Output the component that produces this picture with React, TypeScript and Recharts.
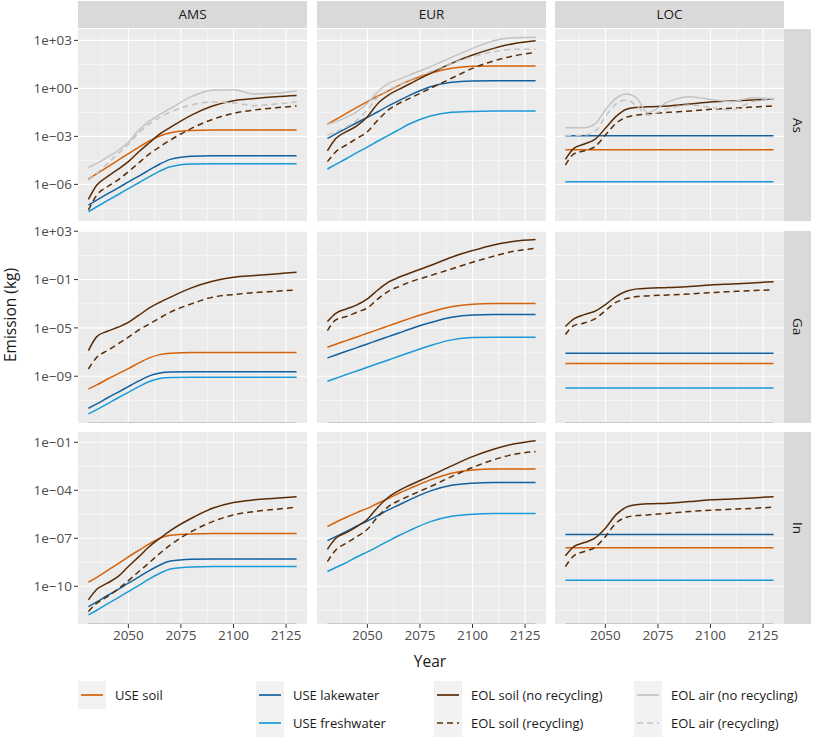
import React from 'react';
import { LineChart, Line, XAxis, YAxis, CartesianGrid } from 'recharts';

// ---------- data (values are log10 of emission in kg) ----------
const YEARS = [2031, 2035, 2040, 2045, 2050, 2055, 2060, 2065, 2070, 2080, 2090, 2100, 2110, 2120, 2130];
const REGIONS = ['AMS', 'EUR', 'LOC'];
const ELEMENTS = ['As', 'Ga', 'In'];

// As
const As_AMS_useSoil = [-5.67, -5.33, -4.92, -4.5, -4.08, -3.67, -3.29, -2.98, -2.77, -2.63, -2.6, -2.6, -2.6, -2.6, -2.6];
const As_AMS_useLake = [-7.29, -6.98, -6.6, -6.23, -5.85, -5.48, -5.1, -4.73, -4.44, -4.25, -4.21, -4.21, -4.21, -4.21, -4.21];
const As_AMS_useFresh = [-7.71, -7.4, -7.02, -6.65, -6.27, -5.9, -5.52, -5.17, -4.9, -4.73, -4.71, -4.71, -4.71, -4.71, -4.71];
const As_AMS_soilNR = [-6.94, -6.04, -5.52, -5.06, -4.58, -3.96, -3.4, -2.85, -2.44, -1.67, -1.1, -0.77, -0.63, -0.52, -0.44];
const As_AMS_soilR = [-7.6, -6.67, -6.15, -5.73, -5.21, -4.65, -4.1, -3.65, -3.23, -2.5, -1.94, -1.56, -1.35, -1.21, -1.1];
const As_AMS_airNR = [-4.96, -4.69, -4.3, -3.9, -3.35, -2.6, -2.05, -1.63, -1.25, -0.52, -0.12, -0.08, -0.36, -0.31, -0.17];
const As_AMS_airR = [-5.73, -5.31, -4.72, -4.1, -3.5, -2.78, -2.22, -1.8, -1.48, -1.04, -0.85, -0.9, -1.08, -0.98, -0.85];

const As_EUR_useSoil = [-2.23, -1.94, -1.56, -1.19, -0.83, -0.48, -0.15, 0.19, 0.48, 0.94, 1.25, 1.38, 1.4, 1.4, 1.4];
const As_EUR_useLake = [-3.13, -2.85, -2.5, -2.15, -1.81, -1.46, -1.1, -0.77, -0.44, 0.1, 0.38, 0.46, 0.48, 0.48, 0.48];
const As_EUR_useFresh = [-5.04, -4.75, -4.4, -4.02, -3.67, -3.29, -2.94, -2.58, -2.23, -1.73, -1.5, -1.44, -1.42, -1.42, -1.42];
const As_EUR_soilNR = [-3.9, -3.13, -2.71, -2.35, -1.77, -0.94, -0.42, -0.06, 0.27, 0.94, 1.56, 2.08, 2.5, 2.81, 2.98];
const As_EUR_soilR = [-4.58, -3.96, -3.54, -3.13, -2.71, -1.98, -1.35, -0.94, -0.63, 0.0, 0.63, 1.25, 1.71, 2.04, 2.25];
const As_EUR_airNR = [-2.25, -2.08, -1.81, -1.46, -0.94, -0.21, 0.31, 0.56, 0.83, 1.35, 1.94, 2.5, 2.98, 3.17, 3.19];
const As_EUR_airR = [-2.92, -2.71, -2.4, -1.98, -1.35, -0.52, -0.1, 0.21, 0.52, 1.04, 1.56, 1.98, 2.29, 2.44, 2.44];

const As_LOC_useSoil = [-3.83, -3.83, -3.83, -3.83, -3.83, -3.83, -3.83, -3.83, -3.83, -3.83, -3.83, -3.83, -3.83, -3.83, -3.83];
const As_LOC_useLake = [-2.96, -2.96, -2.96, -2.96, -2.96, -2.96, -2.96, -2.96, -2.96, -2.96, -2.96, -2.96, -2.96, -2.96, -2.96];
const As_LOC_useFresh = [-5.83, -5.83, -5.83, -5.83, -5.83, -5.83, -5.83, -5.83, -5.83, -5.83, -5.83, -5.83, -5.83, -5.83, -5.83];
const As_LOC_soilNR = [-4.44, -3.75, -3.48, -3.19, -2.5, -1.77, -1.31, -1.19, -1.15, -1.1, -0.98, -0.85, -0.79, -0.73, -0.67];
const As_LOC_soilR = [-4.79, -4.1, -3.9, -3.65, -2.92, -2.19, -1.81, -1.67, -1.6, -1.5, -1.42, -1.31, -1.25, -1.17, -1.1];
const As_LOC_airNR = [-2.46, -2.46, -2.46, -2.23, -1.35, -0.63, -0.35, -0.63, -1.52, -0.83, -0.52, -0.69, -0.83, -0.58, -0.67];
const As_LOC_airR = [-2.94, -2.94, -2.92, -2.71, -1.77, -0.98, -0.73, -1.1, -1.67, -1.25, -1.04, -1.19, -1.35, -0.83, -0.69];

// Ga
const Ga_AMS_useSoil = [-10.05, -9.72, -9.25, -8.81, -8.37, -7.9, -7.48, -7.21, -7.1, -7.04, -7.04, -7.04, -7.04, -7.04, -7.04];
const Ga_AMS_useLake = [-11.65, -11.29, -10.8, -10.33, -9.86, -9.39, -8.97, -8.73, -8.64, -8.62, -8.62, -8.62, -8.62, -8.62, -8.62];
const Ga_AMS_useFresh = [-12.12, -11.76, -11.29, -10.8, -10.33, -9.86, -9.44, -9.19, -9.11, -9.08, -9.08, -9.08, -9.08, -9.08, -9.08];
const Ga_AMS_soilNR = [-6.88, -5.72, -5.28, -4.95, -4.55, -3.95, -3.35, -2.88, -2.46, -1.69, -1.14, -0.81, -0.67, -0.53, -0.39];
const Ga_AMS_soilR = [-8.4, -7.43, -6.88, -6.33, -5.77, -5.17, -4.67, -4.17, -3.7, -3.01, -2.46, -2.24, -2.08, -1.97, -1.86];

const Ga_EUR_useSoil = [-6.6, -6.35, -6.05, -5.75, -5.44, -5.14, -4.83, -4.53, -4.23, -3.68, -3.24, -3.04, -2.99, -2.99, -2.99];
const Ga_EUR_useLake = [-7.48, -7.24, -6.93, -6.63, -6.33, -6.02, -5.72, -5.42, -5.11, -4.56, -4.12, -3.93, -3.9, -3.9, -3.9];
const Ga_EUR_useFresh = [-9.42, -9.17, -8.86, -8.56, -8.26, -7.95, -7.65, -7.35, -7.04, -6.46, -5.99, -5.8, -5.77, -5.77, -5.77];
const Ga_EUR_soilNR = [-4.48, -3.79, -3.43, -3.1, -2.6, -1.86, -1.22, -0.81, -0.48, 0.16, 0.85, 1.4, 1.87, 2.17, 2.31];
const Ga_EUR_soilR = [-5.22, -4.34, -4.06, -3.7, -3.35, -2.6, -1.97, -1.58, -1.22, -0.67, -0.12, 0.43, 0.93, 1.35, 1.59];

const Ga_LOC_useSoil = [-7.95, -7.95, -7.95, -7.95, -7.95, -7.95, -7.95, -7.95, -7.95, -7.95, -7.95, -7.95, -7.95, -7.95, -7.95];
const Ga_LOC_useLake = [-7.1, -7.1, -7.1, -7.1, -7.1, -7.1, -7.1, -7.1, -7.1, -7.1, -7.1, -7.1, -7.1, -7.1, -7.1];
const Ga_LOC_useFresh = [-9.97, -9.97, -9.97, -9.97, -9.97, -9.97, -9.97, -9.97, -9.97, -9.97, -9.97, -9.97, -9.97, -9.97, -9.97];
const Ga_LOC_soilNR = [-4.89, -4.26, -3.9, -3.62, -3.07, -2.41, -1.97, -1.77, -1.72, -1.66, -1.58, -1.44, -1.36, -1.28, -1.17];
const Ga_LOC_soilR = [-5.55, -4.81, -4.59, -4.26, -3.57, -2.88, -2.57, -2.41, -2.35, -2.27, -2.19, -2.08, -1.99, -1.91, -1.86];

// In
const In_AMS_useSoil = [-9.75, -9.44, -9.02, -8.6, -8.17, -7.75, -7.35, -7.0, -6.81, -6.73, -6.71, -6.71, -6.71, -6.71, -6.71];
const In_AMS_useLake = [-11.27, -10.98, -10.58, -10.21, -9.81, -9.42, -9.02, -8.67, -8.42, -8.31, -8.29, -8.29, -8.29, -8.29, -8.29];
const In_AMS_useFresh = [-11.79, -11.5, -11.1, -10.73, -10.33, -9.94, -9.54, -9.19, -8.92, -8.79, -8.77, -8.77, -8.77, -8.77, -8.77];
const In_AMS_soilNR = [-10.85, -10.19, -9.81, -9.4, -8.77, -8.15, -7.52, -7.0, -6.52, -5.75, -5.13, -4.77, -4.6, -4.5, -4.4];
const In_AMS_soilR = [-11.58, -11.06, -10.65, -10.19, -9.65, -9.08, -8.52, -7.94, -7.42, -6.58, -5.96, -5.54, -5.33, -5.19, -5.06];

const In_EUR_useSoil = [-6.27, -6.0, -5.69, -5.4, -5.13, -4.81, -4.52, -4.19, -3.9, -3.35, -2.94, -2.73, -2.67, -2.67, -2.67];
const In_EUR_useLake = [-7.15, -6.9, -6.58, -6.23, -5.92, -5.58, -5.23, -4.92, -4.6, -4.04, -3.69, -3.56, -3.52, -3.52, -3.52];
const In_EUR_useFresh = [-9.08, -8.83, -8.52, -8.17, -7.85, -7.52, -7.17, -6.83, -6.52, -5.96, -5.63, -5.5, -5.46, -5.46, -5.46];
const In_EUR_soilNR = [-7.69, -7.0, -6.65, -6.27, -5.81, -5.06, -4.44, -4.02, -3.69, -3.1, -2.48, -1.9, -1.44, -1.1, -0.9];
const In_EUR_soilR = [-8.46, -7.73, -7.31, -6.9, -6.44, -5.65, -5.02, -4.65, -4.35, -3.77, -3.15, -2.58, -2.1, -1.75, -1.58];

const In_LOC_useSoil = [-7.6, -7.6, -7.6, -7.6, -7.6, -7.6, -7.6, -7.6, -7.6, -7.6, -7.6, -7.6, -7.6, -7.6, -7.6];
const In_LOC_useLake = [-6.77, -6.77, -6.77, -6.77, -6.77, -6.77, -6.77, -6.77, -6.77, -6.77, -6.77, -6.77, -6.77, -6.77, -6.77];
const In_LOC_useFresh = [-9.63, -9.63, -9.63, -9.63, -9.63, -9.63, -9.63, -9.63, -9.63, -9.63, -9.63, -9.63, -9.63, -9.63, -9.63];
const In_LOC_soilNR = [-8.1, -7.52, -7.27, -7.0, -6.38, -5.54, -5.06, -4.9, -4.85, -4.81, -4.71, -4.6, -4.54, -4.48, -4.4];
const In_LOC_soilR = [-8.77, -8.1, -7.83, -7.58, -6.9, -6.06, -5.69, -5.58, -5.54, -5.44, -5.33, -5.25, -5.19, -5.13, -5.06];

// Ga and In have no air emissions: log10(0) = -Infinity (drawn on the panel's lower edge)
const NO_AIR = [-Infinity, -Infinity, -Infinity, -Infinity, -Infinity, -Infinity, -Infinity, -Infinity, -Infinity, -Infinity, -Infinity, -Infinity, -Infinity, -Infinity, -Infinity];

// axis ticks (log10 exponents) per element row
const ROW_DOMAINS = [[-8.29, 3.71], [-12.87, 3.02], [-12.36, -0.36]];
const ROW_MAJOR = [[-6, -3, 0, 3], [-9, -5, -1, 3], [-10, -7, -4, -1]];
const ROW_MINOR = [[-7.5, -4.5, -1.5, 1.5], [-11, -7, -3, 1], [-11.5, -8.5, -5.5, -2.5]];
const X_DOMAIN = [2026.05, 2134.95];
const X_MAJOR = [2050, 2075, 2100, 2125];
const X_MINOR = [2037.5, 2062.5, 2087.5, 2112.5];

const SERIES = [
  { key: 'useSoil', name: 'USE soil', color: '#D5620A', dash: undefined as string | undefined },
  { key: 'useLake', name: 'USE lakewater', color: '#13609F', dash: undefined },
  { key: 'useFresh', name: 'USE freshwater', color: '#1B9AD6', dash: undefined },
  { key: 'soilNR', name: 'EOL soil (no recycling)', color: '#5A2C05', dash: undefined },
  { key: 'soilR', name: 'EOL soil (recycling)', color: '#5A2C05', dash: '6 4' },
  { key: 'airNR', name: 'EOL air (no recycling)', color: '#C3C3C3', dash: undefined },
  { key: 'airR', name: 'EOL air (recycling)', color: '#C3C3C3', dash: '6 4' },
];

const PANEL_SOURCES: Record<string, Record<string, number[]>> = {
  'As-AMS': { useSoil: As_AMS_useSoil, useLake: As_AMS_useLake, useFresh: As_AMS_useFresh, soilNR: As_AMS_soilNR, soilR: As_AMS_soilR, airNR: As_AMS_airNR, airR: As_AMS_airR },
  'As-EUR': { useSoil: As_EUR_useSoil, useLake: As_EUR_useLake, useFresh: As_EUR_useFresh, soilNR: As_EUR_soilNR, soilR: As_EUR_soilR, airNR: As_EUR_airNR, airR: As_EUR_airR },
  'As-LOC': { useSoil: As_LOC_useSoil, useLake: As_LOC_useLake, useFresh: As_LOC_useFresh, soilNR: As_LOC_soilNR, soilR: As_LOC_soilR, airNR: As_LOC_airNR, airR: As_LOC_airR },
  'Ga-AMS': { useSoil: Ga_AMS_useSoil, useLake: Ga_AMS_useLake, useFresh: Ga_AMS_useFresh, soilNR: Ga_AMS_soilNR, soilR: Ga_AMS_soilR, airNR: NO_AIR, airR: NO_AIR },
  'Ga-EUR': { useSoil: Ga_EUR_useSoil, useLake: Ga_EUR_useLake, useFresh: Ga_EUR_useFresh, soilNR: Ga_EUR_soilNR, soilR: Ga_EUR_soilR, airNR: NO_AIR, airR: NO_AIR },
  'Ga-LOC': { useSoil: Ga_LOC_useSoil, useLake: Ga_LOC_useLake, useFresh: Ga_LOC_useFresh, soilNR: Ga_LOC_soilNR, soilR: Ga_LOC_soilR, airNR: NO_AIR, airR: NO_AIR },
  'In-AMS': { useSoil: In_AMS_useSoil, useLake: In_AMS_useLake, useFresh: In_AMS_useFresh, soilNR: In_AMS_soilNR, soilR: In_AMS_soilR, airNR: NO_AIR, airR: NO_AIR },
  'In-EUR': { useSoil: In_EUR_useSoil, useLake: In_EUR_useLake, useFresh: In_EUR_useFresh, soilNR: In_EUR_soilNR, soilR: In_EUR_soilR, airNR: NO_AIR, airR: NO_AIR },
  'In-LOC': { useSoil: In_LOC_useSoil, useLake: In_LOC_useLake, useFresh: In_LOC_useFresh, soilNR: In_LOC_soilNR, soilR: In_LOC_soilR, airNR: NO_AIR, airR: NO_AIR },
};

// ---------- layout ----------
const FONT = "'Open Sans', 'Noto Sans', sans-serif";
const COL_X = [78, 317, 555];
const ROW_Y = [29, 231, 432];
const PW = 229;
const PH = 192;
const Y_AXIS_W = 78;
const X_AXIS_H = 34;
const TOP_PAD = 10;

const fmtExp = (e: number) => {
  const a = Math.abs(e);
  return `1e${e < 0 ? '\u2212' : '+'}${a < 10 ? '0' + a : String(a)}`;
};

function buildRows(element: string, region: string, row: number) {
  const src = PANEL_SOURCES[`${element}-${region}`];
  const lo = ROW_DOMAINS[row][0];
  return YEARS.map((year, i) => {
    const r: Record<string, number> = { year };
    SERIES.forEach((s) => {
      r[s.key] = Math.max(src[s.key][i], lo);
    });
    return r;
  });
}

function Panel({ row, col }: { row: number; col: number }) {
  const element = ELEMENTS[row];
  const region = REGIONS[col];
  const data = buildRows(element, region, row);
  const showY = col === 0;
  const showX = row === 2;
  const width = PW + (showY ? Y_AXIS_W : 0);
  const height = PH + TOP_PAD + (showX ? X_AXIS_H : 0);
  const left = showY ? COL_X[col] - Y_AXIS_W : COL_X[col];
  const tickStyle = { fill: '#4D4D4D', fontSize: 13.5, fontFamily: FONT };
  return (
    <div style={{ position: 'absolute', left, top: ROW_Y[row] - TOP_PAD }}>
      <LineChart width={width} height={height} data={data} margin={{ top: TOP_PAD, right: 0, bottom: 0, left: 0 }}>
        <CartesianGrid
          fill="#EBEBEB"
          fillOpacity={1}
          stroke="#FFFFFF"
          strokeWidth={0.55}
          horizontalValues={ROW_MINOR[row]}
          verticalValues={X_MINOR}
        />
        <CartesianGrid
          stroke="#FFFFFF"
          strokeWidth={1.1}
          horizontalValues={ROW_MAJOR[row]}
          verticalValues={X_MAJOR}
        />
        <XAxis
          type="number"
          dataKey="year"
          domain={X_DOMAIN}
          ticks={X_MAJOR}
          interval={0}
          allowDataOverflow
          hide={!showX}
          height={X_AXIS_H}
          axisLine={false}
          tickLine={{ stroke: '#333333' }}
          tickSize={4}
          tick={tickStyle}
        />
        <YAxis
          type="number"
          domain={ROW_DOMAINS[row]}
          ticks={ROW_MAJOR[row]}
          interval={0}
          allowDataOverflow
          hide={!showY}
          width={Y_AXIS_W}
          axisLine={false}
          tickLine={{ stroke: '#333333' }}
          tickSize={4}
          tick={tickStyle}
          tickFormatter={fmtExp}
        />
        {SERIES.map((s) => (
          <Line
            key={s.key}
            type="monotone"
            dataKey={s.key}
            name={s.name}
            stroke={s.color}
            strokeWidth={1.5}
            strokeDasharray={s.dash}
            dot={false}
            activeDot={false}
            isAnimationActive={false}
          />
        ))}
      </LineChart>
    </div>
  );
}

const LEGEND_GROUPS = [
  ['useSoil'],
  ['useLake', 'useFresh'],
  ['soilNR', 'soilR'],
  ['airNR', 'airR'],
];
const LEGEND_X = [78, 256, 434, 634];

function Legend() {
  return (
    <>
      {LEGEND_GROUPS.map((g, gi) => (
        <div key={gi} style={{ position: 'absolute', left: LEGEND_X[gi], top: 681 }}>
          {g.map((k) => {
            const s = SERIES.find((x) => x.key === k)!;
            return (
              <div key={k} style={{ display: 'flex', alignItems: 'center', height: 28 }}>
                <svg width={28} height={28} style={{ display: 'block' }}>
                  <rect x={0} y={0} width={28} height={28} fill="#F2F2F2" />
                  <line x1={3} x2={25} y1={14} y2={14} stroke={s.color} strokeWidth={1.7} strokeDasharray={s.dash} />
                </svg>
                <span style={{ marginLeft: 9, fontSize: 13, color: '#1A1A1A', fontFamily: FONT, whiteSpace: 'nowrap' }}>{s.name}</span>
              </div>
            );
          })}
        </div>
      ))}
    </>
  );
}

export default function App() {
  return (
    <div style={{ position: 'absolute', left: 0, top: 0, width: 813, height: 738, background: '#FFFFFF', fontFamily: FONT, overflow: 'hidden' }}>
      {REGIONS.map((r, c) => (
        <div
          key={r}
          style={{
            position: 'absolute', left: COL_X[c], top: 1, width: PW, height: 27, background: '#D9D9D9',
            color: '#1A1A1A', fontSize: 13.5, lineHeight: '27px', textAlign: 'center',
          }}
        >
          {r}
        </div>
      ))}
      {ELEMENTS.map((e, r) => (
        <div
          key={e}
          style={{
            position: 'absolute', left: 784, top: ROW_Y[r], width: 27, height: PH, background: '#D9D9D9',
            color: '#1A1A1A', fontSize: 13.5, display: 'flex', alignItems: 'center', justifyContent: 'center',
          }}
        >
          <span style={{ writingMode: 'vertical-rl' }}>{e}</span>
        </div>
      ))}
      {[0, 1, 2].map((row) => [0, 1, 2].map((col) => <Panel key={`${row}-${col}`} row={row} col={col} />))}
      <div style={{ position: 'absolute', left: 330, width: 200, top: 650, textAlign: 'center', fontSize: 15.5, color: '#1A1A1A' }}>Year</div>
      <div
        style={{
          position: 'absolute', left: -90, top: 304, width: 200, textAlign: 'center', fontSize: 15.5, color: '#1A1A1A',
          transform: 'rotate(-90deg)', lineHeight: '22px',
        }}
      >
        Emission (kg)
      </div>
      <Legend />
    </div>
  );
}
